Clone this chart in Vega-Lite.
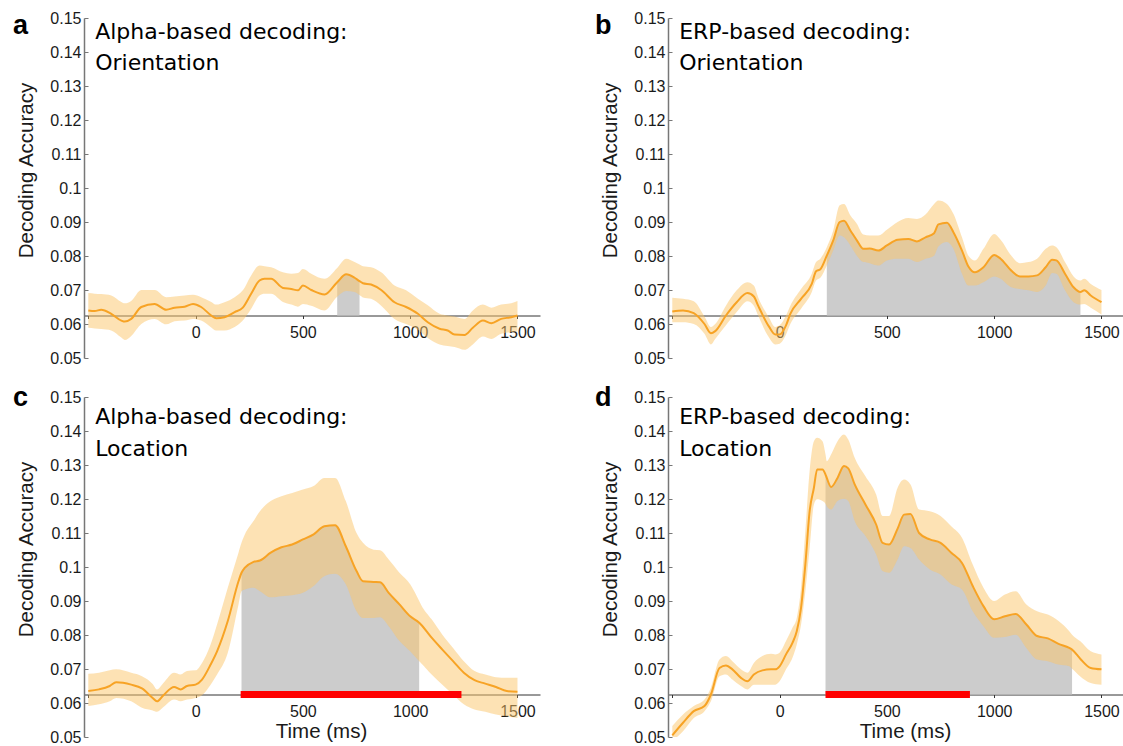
{
  "$schema": "https://vega.github.io/schema/vega-lite/v6.json",
  "background": "white",
  "padding": {"left": 12, "top": 10, "right": 0, "bottom": 0},
  "bounds": "flush",
  "columns": 2,
  "spacing": {"row": 39, "column": 128},
  "config": {
    "view": {"stroke": null},
    "font": "Liberation Sans",
    "axis": {"grid": false, "labelFont": "Liberation Sans", "titleFont": "Liberation Sans", "labelFontSize": 16, "labelColor": "#1a1a1a", "titleColor": "#1a1a1a", "titleFontWeight": "normal", "titleFontSize": 20.5, "zindex": 1, "labelOverlap": false},
    "axisX": {"offset": -42.5, "tickSize": 3, "labelPadding": 6, "domainColor": "#333333", "tickColor": "#333333", "titleY": 43, "titleX": 237, "titleAlign": "center", "titleBaseline": "alphabetic", "labelFlush": false},
    "axisY": {"tickSize": -4, "labelPadding": 7, "domainColor": "#777777", "tickColor": "#777777", "domainWidth": 1.5, "titleX": -52, "titleY": 152, "titleAngle": -90, "titleAlign": "center", "titleBaseline": "alphabetic"}
  },
  "datasets": {
    "curves": [
      {"p":"a","label":"Alpha-based decoding:\nOrientation","letter":"a"},
      {"p":"b","label":"ERP-based decoding:\nOrientation","letter":"b"},
      {"p":"c","label":"Alpha-based decoding:\nLocation","letter":"c"},
      {"p":"d","label":"ERP-based decoding:\nLocation","letter":"d"},
      {"p":"c","start":210,"end":1239},
      {"p":"d","start":214,"end":887},

      {"p":"a","t":-500,"m":0.0640,"lo":0.0589,"hi":0.0691,"s":0},
      {"p":"a","t":-470,"m":0.0638,"lo":0.0587,"hi":0.0689,"s":0},
      {"p":"a","t":-440,"m":0.0642,"lo":0.0585,"hi":0.0688,"s":0},
      {"p":"a","t":-393,"m":0.0630,"lo":0.0581,"hi":0.0684,"s":0},
      {"p":"a","t":-346,"m":0.0610,"lo":0.0560,"hi":0.0665,"s":0},
      {"p":"a","t":-330,"m":0.0607,"lo":0.0553,"hi":0.0661,"s":0},
      {"p":"a","t":-300,"m":0.0615,"lo":0.0565,"hi":0.0668,"s":0},
      {"p":"a","t":-253,"m":0.0650,"lo":0.0600,"hi":0.0700,"s":0},
      {"p":"a","t":-191,"m":0.0659,"lo":0.0615,"hi":0.0700,"s":0},
      {"p":"a","t":-137,"m":0.0642,"lo":0.0599,"hi":0.0679,"s":0},
      {"p":"a","t":-98,"m":0.0648,"lo":0.0608,"hi":0.0681,"s":0},
      {"p":"a","t":-51,"m":0.0651,"lo":0.0610,"hi":0.0684,"s":0},
      {"p":"a","t":-12,"m":0.0659,"lo":0.0615,"hi":0.0686,"s":0},
      {"p":"a","t":26,"m":0.0650,"lo":0.0610,"hi":0.0679,"s":0},
      {"p":"a","t":73,"m":0.0625,"lo":0.0590,"hi":0.0665,"s":0},
      {"p":"a","t":96,"m":0.0617,"lo":0.0581,"hi":0.0657,"s":0},
      {"p":"a","t":135,"m":0.0620,"lo":0.0581,"hi":0.0664,"s":0},
      {"p":"a","t":182,"m":0.0635,"lo":0.0591,"hi":0.0679,"s":0},
      {"p":"a","t":220,"m":0.0648,"lo":0.0610,"hi":0.0699,"s":0},
      {"p":"a","t":259,"m":0.0689,"lo":0.0645,"hi":0.0743,"s":0},
      {"p":"a","t":298,"m":0.0728,"lo":0.0684,"hi":0.0772,"s":0},
      {"p":"a","t":321,"m":0.0733,"lo":0.0689,"hi":0.0770,"s":0},
      {"p":"a","t":352,"m":0.0733,"lo":0.0689,"hi":0.0767,"s":0},
      {"p":"a","t":407,"m":0.0706,"lo":0.0665,"hi":0.0752,"s":0},
      {"p":"a","t":446,"m":0.0703,"lo":0.0657,"hi":0.0748,"s":0},
      {"p":"a","t":477,"m":0.0699,"lo":0.0651,"hi":0.0750,"s":0},
      {"p":"a","t":500,"m":0.0713,"lo":0.0659,"hi":0.0762,"s":0},
      {"p":"a","t":539,"m":0.0700,"lo":0.0654,"hi":0.0748,"s":0},
      {"p":"a","t":601,"m":0.0687,"lo":0.0640,"hi":0.0733,"s":0},
      {"p":"a","t":660,"m":0.0723,"lo":0.0680,"hi":0.0765,"s":1},
      {"p":"a","t":702,"m":0.0746,"lo":0.0697,"hi":0.0792,"s":1},
      {"p":"a","t":741,"m":0.0736,"lo":0.0694,"hi":0.0782,"s":1},
      {"p":"a","t":764,"m":0.0726,"lo":0.0685,"hi":0.0775,"s":1},
      {"p":"a","t":780,"m":0.0720,"lo":0.0678,"hi":0.0770,"s":0},
      {"p":"a","t":818,"m":0.0716,"lo":0.0674,"hi":0.0767,"s":0},
      {"p":"a","t":865,"m":0.0700,"lo":0.0654,"hi":0.0752,"s":0},
      {"p":"a","t":927,"m":0.0664,"lo":0.0615,"hi":0.0713,"s":0},
      {"p":"a","t":981,"m":0.0650,"lo":0.0600,"hi":0.0699,"s":0},
      {"p":"a","t":1036,"m":0.0630,"lo":0.0583,"hi":0.0674,"s":0},
      {"p":"a","t":1082,"m":0.0605,"lo":0.0559,"hi":0.0655,"s":0},
      {"p":"a","t":1137,"m":0.0586,"lo":0.0540,"hi":0.0630,"s":0},
      {"p":"a","t":1175,"m":0.0581,"lo":0.0535,"hi":0.0625,"s":0},
      {"p":"a","t":1207,"m":0.0569,"lo":0.0532,"hi":0.0622,"s":0},
      {"p":"a","t":1253,"m":0.0568,"lo":0.0524,"hi":0.0615,"s":0},
      {"p":"a","t":1292,"m":0.0589,"lo":0.0540,"hi":0.0640,"s":0},
      {"p":"a","t":1339,"m":0.0610,"lo":0.0563,"hi":0.0657,"s":0},
      {"p":"a","t":1378,"m":0.0602,"lo":0.0556,"hi":0.0648,"s":0},
      {"p":"a","t":1424,"m":0.0615,"lo":0.0571,"hi":0.0657,"s":0},
      {"p":"a","t":1471,"m":0.0620,"lo":0.0576,"hi":0.0661,"s":0},
      {"p":"a","t":1500,"m":0.0625,"lo":0.0578,"hi":0.0668,"s":0},

      {"p":"b","t":-500,"m":0.0637,"lo":0.0605,"hi":0.0677,"s":0},
      {"p":"b","t":-450,"m":0.0640,"lo":0.0605,"hi":0.0674,"s":0},
      {"p":"b","t":-400,"m":0.0632,"lo":0.0600,"hi":0.0667,"s":0},
      {"p":"b","t":-350,"m":0.0600,"lo":0.0571,"hi":0.0622,"s":0},
      {"p":"b","t":-320,"m":0.0573,"lo":0.0540,"hi":0.0591,"s":0},
      {"p":"b","t":-300,"m":0.0579,"lo":0.0556,"hi":0.0600,"s":0},
      {"p":"b","t":-250,"m":0.0625,"lo":0.0596,"hi":0.0654,"s":0},
      {"p":"b","t":-200,"m":0.0664,"lo":0.0635,"hi":0.0699,"s":0},
      {"p":"b","t":-150,"m":0.0691,"lo":0.0667,"hi":0.0723,"s":0},
      {"p":"b","t":-120,"m":0.0681,"lo":0.0654,"hi":0.0713,"s":0},
      {"p":"b","t":-100,"m":0.0654,"lo":0.0625,"hi":0.0679,"s":0},
      {"p":"b","t":-50,"m":0.0593,"lo":0.0561,"hi":0.0620,"s":0},
      {"p":"b","t":-20,"m":0.0569,"lo":0.0540,"hi":0.0591,"s":0},
      {"p":"b","t":0,"m":0.0569,"lo":0.0542,"hi":0.0596,"s":0},
      {"p":"b","t":30,"m":0.0596,"lo":0.0569,"hi":0.0625,"s":0},
      {"p":"b","t":50,"m":0.0630,"lo":0.0600,"hi":0.0654,"s":0},
      {"p":"b","t":100,"m":0.0674,"lo":0.0645,"hi":0.0703,"s":0},
      {"p":"b","t":150,"m":0.0718,"lo":0.0694,"hi":0.0748,"s":0},
      {"p":"b","t":170,"m":0.0755,"lo":0.0728,"hi":0.0782,"s":0},
      {"p":"b","t":190,"m":0.0761,"lo":0.0736,"hi":0.0792,"s":0},
      {"p":"b","t":220,"m":0.0801,"lo":0.0772,"hi":0.0826,"s":1},
      {"p":"b","t":250,"m":0.0846,"lo":0.0816,"hi":0.0875,"s":1},
      {"p":"b","t":280,"m":0.0900,"lo":0.0860,"hi":0.0949,"s":1},
      {"p":"b","t":300,"m":0.0904,"lo":0.0855,"hi":0.0953,"s":1},
      {"p":"b","t":330,"m":0.0875,"lo":0.0831,"hi":0.0919,"s":1},
      {"p":"b","t":360,"m":0.0846,"lo":0.0801,"hi":0.0895,"s":1},
      {"p":"b","t":390,"m":0.0821,"lo":0.0782,"hi":0.0863,"s":1},
      {"p":"b","t":420,"m":0.0822,"lo":0.0779,"hi":0.0860,"s":1},
      {"p":"b","t":460,"m":0.0816,"lo":0.0772,"hi":0.0860,"s":1},
      {"p":"b","t":500,"m":0.0831,"lo":0.0787,"hi":0.0877,"s":1},
      {"p":"b","t":550,"m":0.0848,"lo":0.0792,"hi":0.0900,"s":1},
      {"p":"b","t":600,"m":0.0850,"lo":0.0792,"hi":0.0912,"s":1},
      {"p":"b","t":640,"m":0.0843,"lo":0.0782,"hi":0.0909,"s":1},
      {"p":"b","t":680,"m":0.0855,"lo":0.0792,"hi":0.0922,"s":1},
      {"p":"b","t":720,"m":0.0867,"lo":0.0801,"hi":0.0953,"s":1},
      {"p":"b","t":740,"m":0.0893,"lo":0.0828,"hi":0.0963,"s":1},
      {"p":"b","t":780,"m":0.0898,"lo":0.0841,"hi":0.0953,"s":1},
      {"p":"b","t":810,"m":0.0870,"lo":0.0821,"hi":0.0924,"s":1},
      {"p":"b","t":850,"m":0.0816,"lo":0.0748,"hi":0.0855,"s":1},
      {"p":"b","t":880,"m":0.0769,"lo":0.0713,"hi":0.0801,"s":1},
      {"p":"b","t":910,"m":0.0752,"lo":0.0713,"hi":0.0787,"s":1},
      {"p":"b","t":950,"m":0.0767,"lo":0.0723,"hi":0.0821,"s":1},
      {"p":"b","t":1000,"m":0.0803,"lo":0.0740,"hi":0.0865,"s":1},
      {"p":"b","t":1030,"m":0.0792,"lo":0.0733,"hi":0.0848,"s":1},
      {"p":"b","t":1080,"m":0.0757,"lo":0.0708,"hi":0.0801,"s":1},
      {"p":"b","t":1120,"m":0.0740,"lo":0.0703,"hi":0.0779,"s":1},
      {"p":"b","t":1160,"m":0.0740,"lo":0.0699,"hi":0.0782,"s":1},
      {"p":"b","t":1200,"m":0.0743,"lo":0.0694,"hi":0.0792,"s":1},
      {"p":"b","t":1240,"m":0.0767,"lo":0.0713,"hi":0.0821,"s":1},
      {"p":"b","t":1270,"m":0.0789,"lo":0.0750,"hi":0.0831,"s":1},
      {"p":"b","t":1290,"m":0.0787,"lo":0.0748,"hi":0.0826,"s":1},
      {"p":"b","t":1330,"m":0.0748,"lo":0.0699,"hi":0.0782,"s":1},
      {"p":"b","t":1370,"m":0.0708,"lo":0.0664,"hi":0.0740,"s":1},
      {"p":"b","t":1402,"m":0.0694,"lo":0.0657,"hi":0.0728,"s":1},
      {"p":"b","t":1420,"m":0.0699,"lo":0.0659,"hi":0.0733,"s":0},
      {"p":"b","t":1450,"m":0.0684,"lo":0.0648,"hi":0.0718,"s":0},
      {"p":"b","t":1500,"m":0.0664,"lo":0.0628,"hi":0.0700,"s":0},

      {"p":"c","t":-500,"m":0.0635,"lo":0.0591,"hi":0.0686,"s":0},
      {"p":"c","t":-450,"m":0.0640,"lo":0.0596,"hi":0.0689,"s":0},
      {"p":"c","t":-400,"m":0.0650,"lo":0.0605,"hi":0.0696,"s":0},
      {"p":"c","t":-370,"m":0.0661,"lo":0.0615,"hi":0.0699,"s":0},
      {"p":"c","t":-300,"m":0.0654,"lo":0.0605,"hi":0.0689,"s":0},
      {"p":"c","t":-250,"m":0.0643,"lo":0.0586,"hi":0.0679,"s":0},
      {"p":"c","t":-200,"m":0.0615,"lo":0.0578,"hi":0.0656,"s":0},
      {"p":"c","t":-180,"m":0.0605,"lo":0.0574,"hi":0.0640,"s":0},
      {"p":"c","t":-150,"m":0.0623,"lo":0.0588,"hi":0.0659,"s":0},
      {"p":"c","t":-100,"m":0.0647,"lo":0.0610,"hi":0.0689,"s":0},
      {"p":"c","t":-70,"m":0.0640,"lo":0.0605,"hi":0.0684,"s":0},
      {"p":"c","t":-40,"m":0.0650,"lo":0.0610,"hi":0.0694,"s":0},
      {"p":"c","t":0,"m":0.0654,"lo":0.0615,"hi":0.0696,"s":0},
      {"p":"c","t":30,"m":0.0669,"lo":0.0623,"hi":0.0718,"s":0},
      {"p":"c","t":70,"m":0.0713,"lo":0.0654,"hi":0.0772,"s":0},
      {"p":"c","t":100,"m":0.0752,"lo":0.0684,"hi":0.0831,"s":0},
      {"p":"c","t":150,"m":0.0841,"lo":0.0748,"hi":0.0939,"s":0},
      {"p":"c","t":200,"m":0.0958,"lo":0.0890,"hi":0.1042,"s":0},
      {"p":"c","t":214,"m":0.0983,"lo":0.0929,"hi":0.1071,"s":1},
      {"p":"c","t":230,"m":0.0998,"lo":0.0934,"hi":0.1096,"s":1},
      {"p":"c","t":270,"m":0.1015,"lo":0.0939,"hi":0.1135,"s":1},
      {"p":"c","t":300,"m":0.1019,"lo":0.0929,"hi":0.1164,"s":1},
      {"p":"c","t":350,"m":0.1042,"lo":0.0911,"hi":0.1194,"s":1},
      {"p":"c","t":400,"m":0.1058,"lo":0.0914,"hi":0.1208,"s":1},
      {"p":"c","t":450,"m":0.1066,"lo":0.0917,"hi":0.1218,"s":1},
      {"p":"c","t":500,"m":0.1081,"lo":0.0924,"hi":0.1228,"s":1},
      {"p":"c","t":550,"m":0.1096,"lo":0.0944,"hi":0.1238,"s":1},
      {"p":"c","t":600,"m":0.1120,"lo":0.0973,"hi":0.1262,"s":1},
      {"p":"c","t":650,"m":0.1123,"lo":0.0980,"hi":0.1262,"s":1},
      {"p":"c","t":700,"m":0.1061,"lo":0.0949,"hi":0.1194,"s":1},
      {"p":"c","t":750,"m":0.0988,"lo":0.0870,"hi":0.1100,"s":1},
      {"p":"c","t":780,"m":0.0958,"lo":0.0850,"hi":0.1071,"s":1},
      {"p":"c","t":830,"m":0.0956,"lo":0.0850,"hi":0.1051,"s":1},
      {"p":"c","t":860,"m":0.0955,"lo":0.0852,"hi":0.1049,"s":1},
      {"p":"c","t":900,"m":0.0924,"lo":0.0826,"hi":0.1022,"s":1},
      {"p":"c","t":950,"m":0.0890,"lo":0.0782,"hi":0.0983,"s":1},
      {"p":"c","t":1000,"m":0.0855,"lo":0.0752,"hi":0.0949,"s":1},
      {"p":"c","t":1042,"m":0.0836,"lo":0.0723,"hi":0.0900,"s":1},
      {"p":"c","t":1050,"m":0.0831,"lo":0.0718,"hi":0.0890,"s":0},
      {"p":"c","t":1100,"m":0.0792,"lo":0.0684,"hi":0.0846,"s":0},
      {"p":"c","t":1150,"m":0.0757,"lo":0.0654,"hi":0.0801,"s":0},
      {"p":"c","t":1200,"m":0.0723,"lo":0.0625,"hi":0.0762,"s":0},
      {"p":"c","t":1250,"m":0.0689,"lo":0.0596,"hi":0.0723,"s":0},
      {"p":"c","t":1300,"m":0.0667,"lo":0.0581,"hi":0.0694,"s":0},
      {"p":"c","t":1350,"m":0.0657,"lo":0.0574,"hi":0.0684,"s":0},
      {"p":"c","t":1400,"m":0.0647,"lo":0.0566,"hi":0.0676,"s":0},
      {"p":"c","t":1450,"m":0.0635,"lo":0.0561,"hi":0.0674,"s":0},
      {"p":"c","t":1500,"m":0.0633,"lo":0.0556,"hi":0.0674,"s":0},

      {"p":"d","t":-500,"m":0.0505,"lo":0.0488,"hi":0.0532,"s":0},
      {"p":"d","t":-450,"m":0.0542,"lo":0.0517,"hi":0.0566,"s":0},
      {"p":"d","t":-400,"m":0.0576,"lo":0.0556,"hi":0.0591,"s":0},
      {"p":"d","t":-350,"m":0.0591,"lo":0.0576,"hi":0.0610,"s":0},
      {"p":"d","t":-320,"m":0.0625,"lo":0.0605,"hi":0.0645,"s":0},
      {"p":"d","t":-280,"m":0.0703,"lo":0.0679,"hi":0.0728,"s":0},
      {"p":"d","t":-250,"m":0.0710,"lo":0.0684,"hi":0.0738,"s":0},
      {"p":"d","t":-220,"m":0.0699,"lo":0.0669,"hi":0.0723,"s":0},
      {"p":"d","t":-180,"m":0.0674,"lo":0.0650,"hi":0.0699,"s":0},
      {"p":"d","t":-150,"m":0.0664,"lo":0.0640,"hi":0.0689,"s":0},
      {"p":"d","t":-120,"m":0.0684,"lo":0.0654,"hi":0.0718,"s":0},
      {"p":"d","t":-80,"m":0.0696,"lo":0.0654,"hi":0.0738,"s":0},
      {"p":"d","t":-40,"m":0.0699,"lo":0.0654,"hi":0.0745,"s":0},
      {"p":"d","t":-20,"m":0.0699,"lo":0.0654,"hi":0.0743,"s":0},
      {"p":"d","t":0,"m":0.0708,"lo":0.0664,"hi":0.0748,"s":0},
      {"p":"d","t":30,"m":0.0743,"lo":0.0699,"hi":0.0782,"s":0},
      {"p":"d","t":60,"m":0.0777,"lo":0.0733,"hi":0.0821,"s":0},
      {"p":"d","t":80,"m":0.0811,"lo":0.0772,"hi":0.0850,"s":0},
      {"p":"d","t":100,"m":0.0880,"lo":0.0831,"hi":0.0939,"s":0},
      {"p":"d","t":120,"m":0.1007,"lo":0.0929,"hi":0.1105,"s":0},
      {"p":"d","t":140,"m":0.1164,"lo":0.1056,"hi":0.1282,"s":0},
      {"p":"d","t":160,"m":0.1233,"lo":0.1184,"hi":0.1370,"s":0},
      {"p":"d","t":175,"m":0.1287,"lo":0.1199,"hi":0.1380,"s":0},
      {"p":"d","t":200,"m":0.1287,"lo":0.1194,"hi":0.1370,"s":0},
      {"p":"d","t":214,"m":0.1272,"lo":0.1186,"hi":0.1331,"s":1},
      {"p":"d","t":220,"m":0.1262,"lo":0.1179,"hi":0.1311,"s":1},
      {"p":"d","t":240,"m":0.1235,"lo":0.1169,"hi":0.1331,"s":1},
      {"p":"d","t":270,"m":0.1262,"lo":0.1194,"hi":0.1370,"s":1},
      {"p":"d","t":300,"m":0.1297,"lo":0.1201,"hi":0.1390,"s":1},
      {"p":"d","t":320,"m":0.1290,"lo":0.1194,"hi":0.1375,"s":1},
      {"p":"d","t":350,"m":0.1243,"lo":0.1135,"hi":0.1321,"s":1},
      {"p":"d","t":400,"m":0.1184,"lo":0.1091,"hi":0.1267,"s":1},
      {"p":"d","t":450,"m":0.1125,"lo":0.1037,"hi":0.1213,"s":1},
      {"p":"d","t":480,"m":0.1071,"lo":0.0988,"hi":0.1150,"s":1},
      {"p":"d","t":510,"m":0.1066,"lo":0.0983,"hi":0.1150,"s":1},
      {"p":"d","t":550,"m":0.1113,"lo":0.1022,"hi":0.1233,"s":1},
      {"p":"d","t":580,"m":0.1154,"lo":0.1061,"hi":0.1257,"s":1},
      {"p":"d","t":610,"m":0.1156,"lo":0.1056,"hi":0.1243,"s":1},
      {"p":"d","t":650,"m":0.1100,"lo":0.1022,"hi":0.1169,"s":1},
      {"p":"d","t":700,"m":0.1081,"lo":0.0993,"hi":0.1164,"s":1},
      {"p":"d","t":750,"m":0.1071,"lo":0.0978,"hi":0.1150,"s":1},
      {"p":"d","t":800,"m":0.1042,"lo":0.0949,"hi":0.1120,"s":1},
      {"p":"d","t":850,"m":0.1012,"lo":0.0934,"hi":0.1086,"s":1},
      {"p":"d","t":900,"m":0.0944,"lo":0.0870,"hi":0.1007,"s":1},
      {"p":"d","t":950,"m":0.0885,"lo":0.0826,"hi":0.0939,"s":1},
      {"p":"d","t":1000,"m":0.0846,"lo":0.0792,"hi":0.0900,"s":1},
      {"p":"d","t":1050,"m":0.0855,"lo":0.0794,"hi":0.0919,"s":1},
      {"p":"d","t":1100,"m":0.0862,"lo":0.0801,"hi":0.0929,"s":1},
      {"p":"d","t":1150,"m":0.0831,"lo":0.0762,"hi":0.0890,"s":1},
      {"p":"d","t":1200,"m":0.0797,"lo":0.0728,"hi":0.0870,"s":1},
      {"p":"d","t":1250,"m":0.0790,"lo":0.0723,"hi":0.0860,"s":1},
      {"p":"d","t":1300,"m":0.0774,"lo":0.0713,"hi":0.0841,"s":1},
      {"p":"d","t":1350,"m":0.0762,"lo":0.0708,"hi":0.0811,"s":1},
      {"p":"d","t":1363,"m":0.0757,"lo":0.0701,"hi":0.0801,"s":1},
      {"p":"d","t":1400,"m":0.0731,"lo":0.0679,"hi":0.0782,"s":0},
      {"p":"d","t":1450,"m":0.0703,"lo":0.0659,"hi":0.0752,"s":0},
      {"p":"d","t":1500,"m":0.0699,"lo":0.0654,"hi":0.0743,"s":0}
    ]
  },
  "concat": [
    {
      "width": 456, "height": 340,
      "data": {"name": "curves"},
      "transform": [{"filter": "datum.p == 'a'"}],
      "layer": [
        {"transform": [{"filter": "datum.s == 1"}], "mark": {"type": "area", "color": "#cccccc", "interpolate": "monotone", "clip": true},
         "encoding": {
           "x": {"field": "t", "type": "quantitative", "title": null, "scale": {"domain": [-520, 1605], "nice": false, "zero": false}, "axis": {"values": [-500, 0, 500, 1000, 1500], "format": "d", "labelOverlap": false, "labelExpr": "datum.value < 0 ? '' : datum.label"}},
           "y": {"field": "m", "type": "quantitative", "title": "Decoding Accuracy", "scale": {"domain": [0.05, 0.15], "nice": false, "zero": false}, "axis": {"values": [0.05, 0.06, 0.07, 0.08, 0.09, 0.1, 0.11, 0.12, 0.13, 0.14, 0.15], "format": ".2~f", "labelOverlap": false}},
           "y2": {"datum": 0.0625}}},
        {"transform": [{"filter": "isValid(datum.t)"}], "mark": {"type": "area", "color": "#fbc66a", "opacity": 0.5, "interpolate": "monotone", "clip": true}, "encoding": {"x": {"field": "t", "type": "quantitative", "title": null}, "y": {"field": "lo", "type": "quantitative", "title": "Decoding Accuracy", "axis": {"values": [0.05, 0.06, 0.07, 0.08, 0.09, 0.1, 0.11, 0.12, 0.13, 0.14, 0.15], "format": ".2~f", "labelOverlap": false}}, "y2": {"field": "hi"}}},
        {"transform": [{"filter": "isValid(datum.t)"}], "mark": {"type": "line", "color": "#f7a325", "strokeWidth": 2, "interpolate": "monotone", "clip": true}, "encoding": {"x": {"field": "t", "type": "quantitative", "title": null}, "y": {"field": "m", "type": "quantitative", "title": "Decoding Accuracy", "axis": {"values": [0.05, 0.06, 0.07, 0.08, 0.09, 0.1, 0.11, 0.12, 0.13, 0.14, 0.15], "format": ".2~f", "labelOverlap": false}}}},
        {"transform": [{"filter": "isValid(datum.label)"}], "mark": {"type": "text", "font": "DejaVu Sans", "fontSize": 22, "lineBreak": "\n", "lineHeight": 31, "align": "left", "baseline": "alphabetic", "color": "#000000"}, "encoding": {"x": {"datum": -468, "type": "quantitative", "title": null, "axis": {"values": [-500, 0, 500, 1000, 1500], "format": "d", "labelOverlap": false, "labelExpr": "datum.value < 0 ? '' : datum.label"}}, "y": {"datum": 0.1439, "type": "quantitative", "title": "Decoding Accuracy", "axis": {"values": [0.05, 0.06, 0.07, 0.08, 0.09, 0.1, 0.11, 0.12, 0.13, 0.14, 0.15], "format": ".2~f", "labelOverlap": false}}, "text": {"field": "label"}}},
        {"transform": [{"filter": "isValid(datum.letter)"}], "mark": {"type": "text", "font": "Liberation Sans", "fontSize": 27, "fontWeight": "bold", "align": "left", "baseline": "alphabetic", "color": "#000000"}, "encoding": {"x": {"datum": -851, "type": "quantitative", "title": null, "axis": {"values": [-500, 0, 500, 1000, 1500], "format": "d", "labelOverlap": false, "labelExpr": "datum.value < 0 ? '' : datum.label"}}, "y": {"datum": 0.1453, "type": "quantitative", "title": "Decoding Accuracy", "axis": {"values": [0.05, 0.06, 0.07, 0.08, 0.09, 0.1, 0.11, 0.12, 0.13, 0.14, 0.15], "format": ".2~f", "labelOverlap": false}}, "text": {"field": "letter"}}}
      ]
    },
    {
      "width": 456, "height": 340,
      "data": {"name": "curves"},
      "transform": [{"filter": "datum.p == 'b'"}],
      "layer": [
        {"transform": [{"filter": "datum.s == 1"}], "mark": {"type": "area", "color": "#cccccc", "interpolate": "monotone", "clip": true},
         "encoding": {
           "x": {"field": "t", "type": "quantitative", "title": null, "scale": {"domain": [-520, 1605], "nice": false, "zero": false}, "axis": {"values": [-500, 0, 500, 1000, 1500], "format": "d", "labelOverlap": false, "labelExpr": "datum.value < 0 ? '' : datum.label"}},
           "y": {"field": "m", "type": "quantitative", "title": "Decoding Accuracy", "scale": {"domain": [0.05, 0.15], "nice": false, "zero": false}, "axis": {"values": [0.05, 0.06, 0.07, 0.08, 0.09, 0.1, 0.11, 0.12, 0.13, 0.14, 0.15], "format": ".2~f", "labelOverlap": false}},
           "y2": {"datum": 0.0625}}},
        {"transform": [{"filter": "isValid(datum.t)"}], "mark": {"type": "area", "color": "#fbc66a", "opacity": 0.5, "interpolate": "monotone", "clip": true}, "encoding": {"x": {"field": "t", "type": "quantitative", "title": null}, "y": {"field": "lo", "type": "quantitative", "title": "Decoding Accuracy", "axis": {"values": [0.05, 0.06, 0.07, 0.08, 0.09, 0.1, 0.11, 0.12, 0.13, 0.14, 0.15], "format": ".2~f", "labelOverlap": false}}, "y2": {"field": "hi"}}},
        {"transform": [{"filter": "isValid(datum.t)"}], "mark": {"type": "line", "color": "#f7a325", "strokeWidth": 2, "interpolate": "monotone", "clip": true}, "encoding": {"x": {"field": "t", "type": "quantitative", "title": null}, "y": {"field": "m", "type": "quantitative", "title": "Decoding Accuracy", "axis": {"values": [0.05, 0.06, 0.07, 0.08, 0.09, 0.1, 0.11, 0.12, 0.13, 0.14, 0.15], "format": ".2~f", "labelOverlap": false}}}},
        {"transform": [{"filter": "isValid(datum.label)"}], "mark": {"type": "text", "font": "DejaVu Sans", "fontSize": 22, "lineBreak": "\n", "lineHeight": 31, "align": "left", "baseline": "alphabetic", "color": "#000000"}, "encoding": {"x": {"datum": -468, "type": "quantitative", "title": null, "axis": {"values": [-500, 0, 500, 1000, 1500], "format": "d", "labelOverlap": false, "labelExpr": "datum.value < 0 ? '' : datum.label"}}, "y": {"datum": 0.1439, "type": "quantitative", "title": "Decoding Accuracy", "axis": {"values": [0.05, 0.06, 0.07, 0.08, 0.09, 0.1, 0.11, 0.12, 0.13, 0.14, 0.15], "format": ".2~f", "labelOverlap": false}}, "text": {"field": "label"}}},
        {"transform": [{"filter": "isValid(datum.letter)"}], "mark": {"type": "text", "font": "Liberation Sans", "fontSize": 27, "fontWeight": "bold", "align": "left", "baseline": "alphabetic", "color": "#000000"}, "encoding": {"x": {"datum": -860, "type": "quantitative", "title": null, "axis": {"values": [-500, 0, 500, 1000, 1500], "format": "d", "labelOverlap": false, "labelExpr": "datum.value < 0 ? '' : datum.label"}}, "y": {"datum": 0.1453, "type": "quantitative", "title": "Decoding Accuracy", "axis": {"values": [0.05, 0.06, 0.07, 0.08, 0.09, 0.1, 0.11, 0.12, 0.13, 0.14, 0.15], "format": ".2~f", "labelOverlap": false}}, "text": {"field": "letter"}}}
      ]
    },
    {
      "width": 456, "height": 340,
      "data": {"name": "curves"},
      "transform": [{"filter": "datum.p == 'c'"}],
      "layer": [
        {"transform": [{"filter": "datum.s == 1"}], "mark": {"type": "area", "color": "#cccccc", "interpolate": "monotone", "clip": true},
         "encoding": {
           "x": {"field": "t", "type": "quantitative", "title": "Time (ms)", "scale": {"domain": [-520, 1605], "nice": false, "zero": false}, "axis": {"values": [-500, 0, 500, 1000, 1500], "format": "d", "labelOverlap": false, "labelExpr": "datum.value < 0 ? '' : datum.label"}},
           "y": {"field": "m", "type": "quantitative", "title": "Decoding Accuracy", "scale": {"domain": [0.05, 0.15], "nice": false, "zero": false}, "axis": {"values": [0.05, 0.06, 0.07, 0.08, 0.09, 0.1, 0.11, 0.12, 0.13, 0.14, 0.15], "format": ".2~f", "labelOverlap": false}},
           "y2": {"datum": 0.0625}}},
        {"transform": [{"filter": "isValid(datum.t)"}], "mark": {"type": "area", "color": "#fbc66a", "opacity": 0.5, "interpolate": "monotone", "clip": true}, "encoding": {"x": {"field": "t", "type": "quantitative", "title": "Time (ms)"}, "y": {"field": "lo", "type": "quantitative", "title": "Decoding Accuracy", "axis": {"values": [0.05, 0.06, 0.07, 0.08, 0.09, 0.1, 0.11, 0.12, 0.13, 0.14, 0.15], "format": ".2~f", "labelOverlap": false}}, "y2": {"field": "hi"}}},
        {"transform": [{"filter": "isValid(datum.t)"}], "mark": {"type": "line", "color": "#f7a325", "strokeWidth": 2, "interpolate": "monotone", "clip": true}, "encoding": {"x": {"field": "t", "type": "quantitative", "title": "Time (ms)"}, "y": {"field": "m", "type": "quantitative", "title": "Decoding Accuracy", "axis": {"values": [0.05, 0.06, 0.07, 0.08, 0.09, 0.1, 0.11, 0.12, 0.13, 0.14, 0.15], "format": ".2~f", "labelOverlap": false}}}},
        {"transform": [{"filter": "isValid(datum.start)"}], "mark": {"type": "rule", "color": "#ff0000", "strokeWidth": 7}, "encoding": {"x": {"field": "start", "type": "quantitative", "title": "Time (ms)"}, "x2": {"field": "end"}, "y": {"datum": 0.0625, "type": "quantitative", "title": "Decoding Accuracy", "axis": {"values": [0.05, 0.06, 0.07, 0.08, 0.09, 0.1, 0.11, 0.12, 0.13, 0.14, 0.15], "format": ".2~f", "labelOverlap": false}}}},
        {"transform": [{"filter": "isValid(datum.label)"}], "mark": {"type": "text", "font": "DejaVu Sans", "fontSize": 22, "lineBreak": "\n", "lineHeight": 32, "align": "left", "baseline": "alphabetic", "color": "#000000"}, "encoding": {"x": {"datum": -468, "type": "quantitative", "title": "Time (ms)", "axis": {"values": [-500, 0, 500, 1000, 1500], "format": "d", "labelOverlap": false, "labelExpr": "datum.value < 0 ? '' : datum.label"}}, "y": {"datum": 0.1421, "type": "quantitative", "title": "Decoding Accuracy", "axis": {"values": [0.05, 0.06, 0.07, 0.08, 0.09, 0.1, 0.11, 0.12, 0.13, 0.14, 0.15], "format": ".2~f", "labelOverlap": false}}, "text": {"field": "label"}}},
        {"transform": [{"filter": "isValid(datum.letter)"}], "mark": {"type": "text", "font": "Liberation Sans", "fontSize": 27, "fontWeight": "bold", "align": "left", "baseline": "alphabetic", "color": "#000000"}, "encoding": {"x": {"datum": -851, "type": "quantitative", "title": "Time (ms)", "axis": {"values": [-500, 0, 500, 1000, 1500], "format": "d", "labelOverlap": false, "labelExpr": "datum.value < 0 ? '' : datum.label"}}, "y": {"datum": 0.1474, "type": "quantitative", "title": "Decoding Accuracy", "axis": {"values": [0.05, 0.06, 0.07, 0.08, 0.09, 0.1, 0.11, 0.12, 0.13, 0.14, 0.15], "format": ".2~f", "labelOverlap": false}}, "text": {"field": "letter"}}}
      ]
    },
    {
      "width": 456, "height": 340,
      "data": {"name": "curves"},
      "transform": [{"filter": "datum.p == 'd'"}],
      "layer": [
        {"transform": [{"filter": "datum.s == 1"}], "mark": {"type": "area", "color": "#cccccc", "interpolate": "monotone", "clip": true},
         "encoding": {
           "x": {"field": "t", "type": "quantitative", "title": "Time (ms)", "scale": {"domain": [-520, 1605], "nice": false, "zero": false}, "axis": {"values": [-500, 0, 500, 1000, 1500], "format": "d", "labelOverlap": false, "labelExpr": "datum.value < 0 ? '' : datum.label"}},
           "y": {"field": "m", "type": "quantitative", "title": "Decoding Accuracy", "scale": {"domain": [0.05, 0.15], "nice": false, "zero": false}, "axis": {"values": [0.05, 0.06, 0.07, 0.08, 0.09, 0.1, 0.11, 0.12, 0.13, 0.14, 0.15], "format": ".2~f", "labelOverlap": false}},
           "y2": {"datum": 0.0625}}},
        {"transform": [{"filter": "isValid(datum.t)"}], "mark": {"type": "area", "color": "#fbc66a", "opacity": 0.5, "interpolate": "monotone", "clip": true}, "encoding": {"x": {"field": "t", "type": "quantitative", "title": "Time (ms)"}, "y": {"field": "lo", "type": "quantitative", "title": "Decoding Accuracy", "axis": {"values": [0.05, 0.06, 0.07, 0.08, 0.09, 0.1, 0.11, 0.12, 0.13, 0.14, 0.15], "format": ".2~f", "labelOverlap": false}}, "y2": {"field": "hi"}}},
        {"transform": [{"filter": "isValid(datum.t)"}], "mark": {"type": "line", "color": "#f7a325", "strokeWidth": 2, "interpolate": "monotone", "clip": true}, "encoding": {"x": {"field": "t", "type": "quantitative", "title": "Time (ms)"}, "y": {"field": "m", "type": "quantitative", "title": "Decoding Accuracy", "axis": {"values": [0.05, 0.06, 0.07, 0.08, 0.09, 0.1, 0.11, 0.12, 0.13, 0.14, 0.15], "format": ".2~f", "labelOverlap": false}}}},
        {"transform": [{"filter": "isValid(datum.start)"}], "mark": {"type": "rule", "color": "#ff0000", "strokeWidth": 7}, "encoding": {"x": {"field": "start", "type": "quantitative", "title": "Time (ms)"}, "x2": {"field": "end"}, "y": {"datum": 0.0625, "type": "quantitative", "title": "Decoding Accuracy", "axis": {"values": [0.05, 0.06, 0.07, 0.08, 0.09, 0.1, 0.11, 0.12, 0.13, 0.14, 0.15], "format": ".2~f", "labelOverlap": false}}}},
        {"transform": [{"filter": "isValid(datum.label)"}], "mark": {"type": "text", "font": "DejaVu Sans", "fontSize": 22, "lineBreak": "\n", "lineHeight": 32, "align": "left", "baseline": "alphabetic", "color": "#000000"}, "encoding": {"x": {"datum": -468, "type": "quantitative", "title": "Time (ms)", "axis": {"values": [-500, 0, 500, 1000, 1500], "format": "d", "labelOverlap": false, "labelExpr": "datum.value < 0 ? '' : datum.label"}}, "y": {"datum": 0.1421, "type": "quantitative", "title": "Decoding Accuracy", "axis": {"values": [0.05, 0.06, 0.07, 0.08, 0.09, 0.1, 0.11, 0.12, 0.13, 0.14, 0.15], "format": ".2~f", "labelOverlap": false}}, "text": {"field": "label"}}},
        {"transform": [{"filter": "isValid(datum.letter)"}], "mark": {"type": "text", "font": "Liberation Sans", "fontSize": 27, "fontWeight": "bold", "align": "left", "baseline": "alphabetic", "color": "#000000"}, "encoding": {"x": {"datum": -860, "type": "quantitative", "title": "Time (ms)", "axis": {"values": [-500, 0, 500, 1000, 1500], "format": "d", "labelOverlap": false, "labelExpr": "datum.value < 0 ? '' : datum.label"}}, "y": {"datum": 0.1474, "type": "quantitative", "title": "Decoding Accuracy", "axis": {"values": [0.05, 0.06, 0.07, 0.08, 0.09, 0.1, 0.11, 0.12, 0.13, 0.14, 0.15], "format": ".2~f", "labelOverlap": false}}, "text": {"field": "letter"}}}
      ]
    }
  ]
}
